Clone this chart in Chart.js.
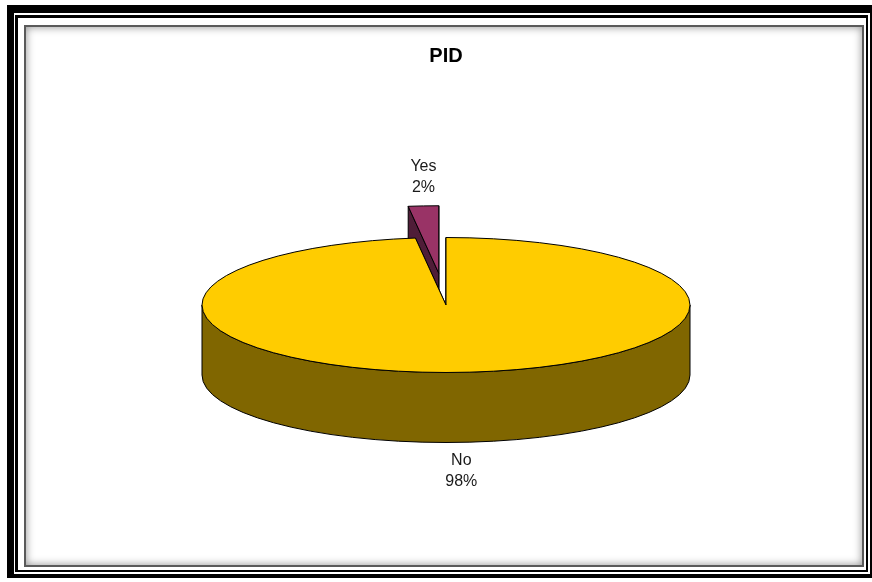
<!DOCTYPE html>
<html>
<head>
<meta charset="utf-8">
<title>PID</title>
<script src="https://cdn.jsdelivr.net/npm/chart.js@4.4.1/dist/chart.umd.min.js"></script>
<style>
  html, body { margin: 0; padding: 0; background: #fff; }
  #wrap { position: relative; width: 872px; height: 582px; overflow: hidden; background: #fff; }
  .frame-outer {
    position: absolute; left: 7px; top: 5px; width: 870px; height: 573px;
    box-sizing: border-box; border: solid #000; border-width: 8px 7px 4px 7px;
  }
  .frame-line {
    position: absolute; left: 15px; top: 15px; width: 853px; height: 557px;
    box-sizing: border-box; border: solid #000; border-width: 3px 2px 2px 3px;
  }
  .panel {
    position: absolute; left: 24px; top: 25px; width: 840px; height: 542px;
    box-sizing: border-box; border: 2px solid #5a5a5a;
    box-shadow: inset 0 0 8px rgba(0, 0, 0, 0.45);
  }
  #pidChart { position: absolute; left: 0; top: 0; }
</style>
</head>
<body>
<div id="wrap">
  <div class="frame-outer"></div>
  <div class="frame-line"></div>
  <div class="panel"></div>
  <canvas id="pidChart" width="872" height="582"></canvas>
</div>
<script>
const answers = ['No', 'Yes'];
const shares = [98, 2];
const topColors = ['#FFCC00', '#993366'];
const sideColors = ['#806600', '#4f1d38'];

// flattening of the pie and height of its side wall
const TILT = 0.2766;
const DEPTH = 70;

function sliceGeom(arc) {
    const p = arc.getProps(['x', 'y', 'startAngle', 'endAngle', 'outerRadius'], true);
    const off = arc.options.offset || 0;
    const mid = (p.startAngle + p.endAngle) / 2;
    return {
        cx: p.x + Math.cos(mid) * off,
        cy: p.y + Math.sin(mid) * off * TILT,
        r: p.outerRadius,
        ry: p.outerRadius * TILT,
        start: p.startAngle,
        end: p.endAngle,
        mid: mid,
        off: off
    };
}

function drawSlice(ctx, g, top, side) {
    ctx.lineWidth = 1;
    ctx.strokeStyle = '#000';
    ctx.lineJoin = 'round';

    // the two cut faces, farthest one first
    const cuts = [g.start, g.end].sort((a, b) => Math.sin(a) - Math.sin(b));
    cuts.forEach(a => {
        const px = g.cx + Math.cos(a) * g.r;
        const py = g.cy + Math.sin(a) * g.ry;
        ctx.beginPath();
        ctx.moveTo(g.cx, g.cy);
        ctx.lineTo(px, py);
        ctx.lineTo(px, py + DEPTH);
        ctx.lineTo(g.cx, g.cy + DEPTH);
        ctx.closePath();
        ctx.fillStyle = side;
        ctx.fill();
        ctx.stroke();
    });

    // curved wall, only where it faces the viewer
    [-2 * Math.PI, 0, 2 * Math.PI].forEach(k => {
        const lo = Math.max(g.start, k);
        const hi = Math.min(g.end, k + Math.PI);
        if (hi <= lo) return;
        ctx.beginPath();
        ctx.ellipse(g.cx, g.cy, g.r, g.ry, 0, lo, hi);
        ctx.lineTo(g.cx + Math.cos(hi) * g.r, g.cy + Math.sin(hi) * g.ry + DEPTH);
        ctx.ellipse(g.cx, g.cy + DEPTH, g.r, g.ry, 0, hi, lo, true);
        ctx.closePath();
        ctx.fillStyle = side;
        ctx.fill();
        ctx.stroke();
    });

    // top face
    ctx.beginPath();
    ctx.moveTo(g.cx, g.cy);
    ctx.ellipse(g.cx, g.cy, g.r, g.ry, 0, g.start, g.end);
    ctx.closePath();
    ctx.fillStyle = top;
    ctx.fill();
    ctx.stroke();
}

const pie3d = {
    id: 'pie3d',
    beforeDatasetsDraw(chart) {
        const ctx = chart.ctx;
        const meta = chart.getDatasetMeta(0);
        const ds = chart.data.datasets[0];
        const geoms = meta.data.map(sliceGeom);
        const order = geoms.map((g, i) => i).sort((a, b) => Math.sin(geoms[a].mid) - Math.sin(geoms[b].mid));

        ctx.save();
        order.forEach(i => drawSlice(ctx, geoms[i], ds.backgroundColor[i], sideColors[i]));

        // category and percentage next to each slice
        const total = ds.data.reduce((s, v) => s + v, 0);
        ctx.font = '16px "Liberation Sans", Arial, sans-serif';
        ctx.fillStyle = '#1a1a1a';
        ctx.textAlign = 'center';
        ctx.textBaseline = 'middle';
        const lineH = 21;
        geoms.forEach((g, i) => {
            const lines = [chart.data.labels[i], Math.round(ds.data[i] / total * 100) + '%'];
            const ax = g.cx + Math.cos(g.mid) * g.r;
            let ay = g.cy + Math.sin(g.mid) * g.ry;
            let y0;
            if (Math.sin(g.mid) > 0) {
                ay += DEPTH;
                y0 = ay + 8 + lineH / 2;
            } else {
                y0 = ay - 8 - lineH * lines.length + lineH / 2;
            }
            lines.forEach((t, j) => ctx.fillText(t, ax, y0 + j * lineH));
        });
        ctx.restore();
        return false;
    }
};

new Chart(document.getElementById('pidChart'), {
    type: 'pie',
    data: {
        labels: answers,
        datasets: [{
            data: shares,
            backgroundColor: topColors,
            borderColor: '#000',
            borderWidth: 1,
            offset: [0, 115],
            radius: 244
        }]
    },
    options: {
        responsive: false,
        animation: false,
        events: [],
        layout: {
            padding: { left: 20, right: 0, top: 0, bottom: 40 }
        },
        plugins: {
            legend: { display: false },
            tooltip: { enabled: false },
            title: {
                display: true,
                text: 'PID',
                color: '#000',
                font: { family: '"Liberation Sans", Arial, sans-serif', size: 20, weight: 'bold' },
                padding: { top: 44, bottom: 0 }
            }
        }
    },
    plugins: [pie3d]
});
</script>
</body>
</html>
